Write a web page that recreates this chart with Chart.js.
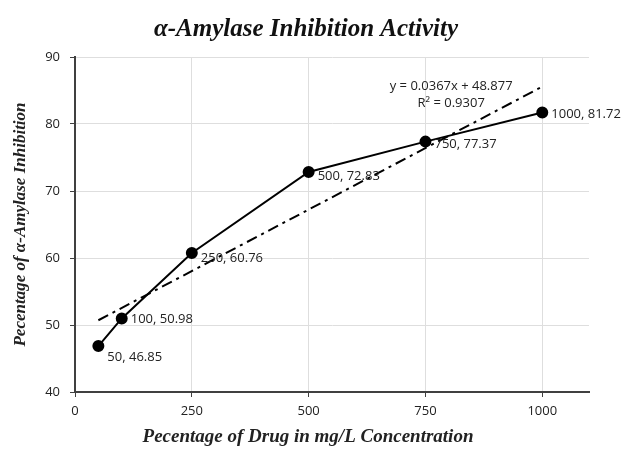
<!DOCTYPE html>
<html>
<head>
<meta charset="utf-8">
<script src="https://cdn.jsdelivr.net/npm/chart.js@4"></script>
<style>
  html, body { margin: 0; padding: 0; background: #fff; }
  #wrap { width: 624px; height: 449px; }
</style>
</head>
<body>
<div id="wrap"><canvas id="amylaseChart" width="624" height="449"></canvas></div>
<script>
// Dữ liệu
const doseX = [50, 100, 250, 500, 750, 1000];
const inhibitionY = [46.85, 50.98, 60.76, 72.83, 77.37, 81.72];
const trendX = [50, 1000];
const trendY = [50.71, 85.58];
const xTicks = [0, 250, 500, 750, 1000];
const yTicks = [40, 50, 60, 70, 80, 90];
const equationText = ['y = 0.0367x + 48.877', 'R\u00B2 = 0.9307'];
const chartTitle = '\u03B1-Amylase Inhibition Activity';
const xTitle = 'Pecentage of Drug in mg/L Concentration';

const serif = "'Liberation Serif', 'Times New Roman', serif";
const sans = "'Open Sans', 'Liberation Sans', sans-serif";

// Vẽ tiêu đề, nhãn dữ liệu và phương trình hồi quy
const labelPlugin = {
  id: 'pointLabels',
  afterDatasetsDraw(chart) {
    const { ctx, scales: { x, y } } = chart;
    ctx.save();
    ctx.textBaseline = 'middle';
    ctx.textAlign = 'center';

    // tiêu đề + tiêu đề trục x
    ctx.font = 'italic bold 25px ' + serif;
    ctx.fillStyle = '#111';
    ctx.fillText(chartTitle, 306, 30);
    ctx.font = 'italic bold 19px ' + serif;
    ctx.fillStyle = '#222';
    ctx.fillText(xTitle, 308, 437);

    ctx.font = '13px ' + sans;
    ctx.fillStyle = '#222';
    ctx.textAlign = 'left';
    const dy = [11, 1, 5, 4, 3, 2];
    doseX.forEach((v, i) => {
      const px = x.getPixelForValue(v);
      const py = y.getPixelForValue(inhibitionY[i]);
      ctx.fillText(v + ', ' + inhibitionY[i].toFixed(2), px + 9, py + dy[i]);
    });
    ctx.textAlign = 'center';
    const ex = x.getPixelForValue(805);
    ctx.fillText(equationText[0], ex, y.getPixelForValue(85.66));
    ctx.fillText(equationText[1], ex, y.getPixelForValue(83.1));
    ctx.restore();
  }
};

new Chart(document.getElementById('amylaseChart'), {
  type: 'scatter',
  data: {
    datasets: [
      {
        label: 'Inhibition',
        data: doseX.map((v, i) => ({ x: v, y: inhibitionY[i] })),
        showLine: true,
        borderColor: '#000',
        backgroundColor: '#000',
        borderWidth: 2,
        pointRadius: 5,
        pointBackgroundColor: '#000',
        order: 1
      },
      {
        label: 'Linear',
        data: trendX.map((v, i) => ({ x: v, y: trendY[i] })),
        showLine: true,
        borderColor: '#000',
        borderWidth: 2,
        borderDash: [11, 5, 3, 5],
        pointRadius: 0,
        order: 2
      }
    ]
  },
  options: {
    responsive: false,
    animation: false,
    layout: { padding: { left: 0, right: 35, top: 57, bottom: 0 } },
    plugins: {
      legend: { display: false },
      tooltip: { enabled: false },
      title: { display: false }
    },
    scales: {
      x: {
        type: 'linear',
        min: 0,
        max: 1100,
        afterBuildTicks: s => { s.ticks = xTicks.map(v => ({ value: v })); },
        afterFit: s => { s.height = 57; },
        ticks: { color: '#222', font: { family: sans, size: 13 }, padding: 6, maxRotation: 0, callback: v => String(v) },
        grid: { color: '#dedede', tickColor: '#404040', tickLength: 5, lineWidth: 1 },
        border: { color: '#404040', width: 2 },
        title: { display: false }
      },
      y: {
        min: 40,
        max: 90,
        afterBuildTicks: s => { s.ticks = yTicks.map(v => ({ value: v })); },
        afterFit: s => { s.width = 75; },
        ticks: { color: '#222', font: { family: sans, size: 13 }, padding: 10 },
        grid: { color: '#dedede', tickColor: '#404040', tickLength: 5, lineWidth: 1 },
        border: { color: '#404040', width: 2 },
        title: {
          display: true,
          text: 'Pecentage of \u03B1-Amylase Inhibition',
          color: '#222',
          font: { family: serif, size: 17, style: 'italic', weight: 'bold' },
          padding: { top: 10, bottom: 0 }
        }
      }
    }
  },
  plugins: [labelPlugin]
});
</script>
</body>
</html>
